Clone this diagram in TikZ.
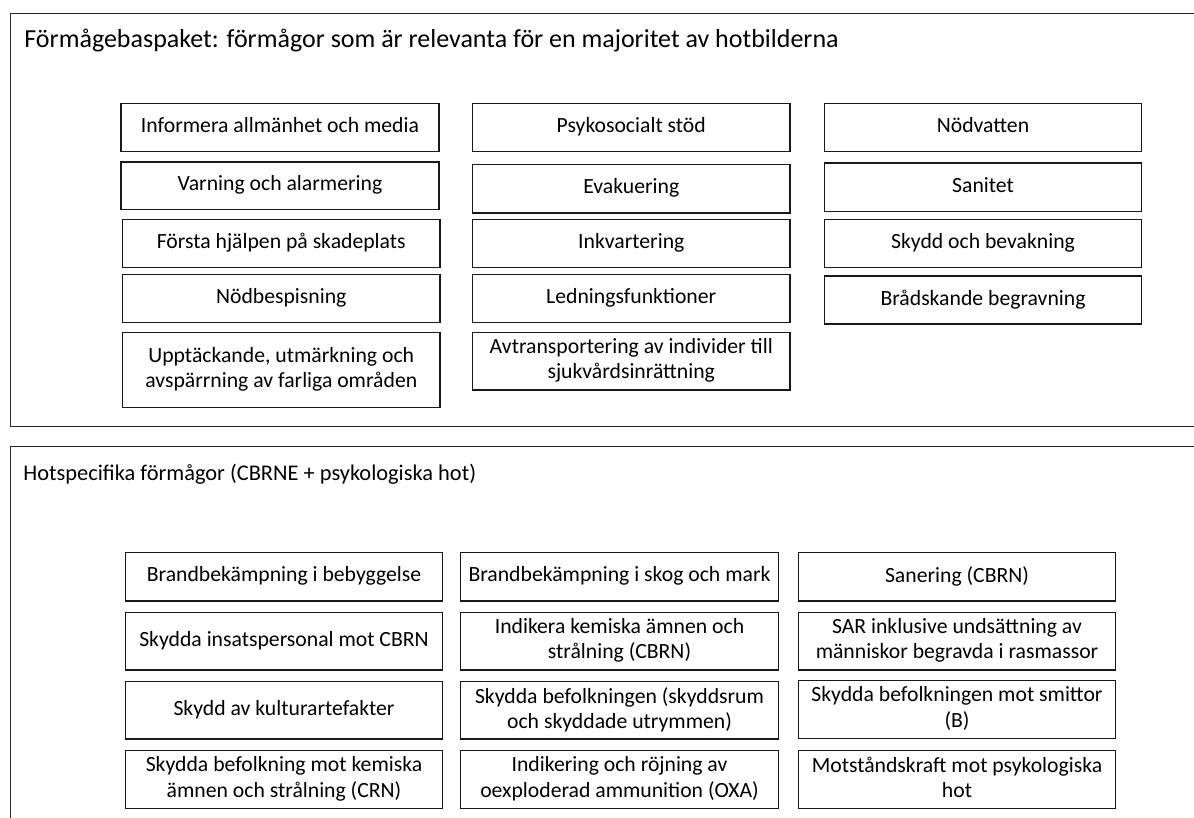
\documentclass[tikz,border=0pt]{standalone}
\usepackage{fontspec}
\setmainfont{Carlito}
\newcommand{\cellstrut}{\rule[-2.5pt]{0pt}{9.4pt}}
\tikzset{
  cell/.style={draw=black!90, line width=0.75pt, inner sep=0pt, align=center,
    font=\fontsize{10.85}{12.6}\selectfont},
  frame/.style={draw=black!85, line width=0.9pt},
  title/.style={anchor=base west, inner sep=0pt}
}
\newcommand{\cellbox}[6]{%
  \pgfmathsetmacro\cbx{(#2+#4)/2}\pgfmathsetmacro\cby{(#3+#5)/2}%
  \pgfmathsetmacro\cbw{(#4-#2)*0.5}\pgfmathsetmacro\cbh{(#5-#3)*0.5}%
  \node[cell, minimum width=\cbw pt, minimum height=\cbh pt] (#1) at (\cbx,\cby) {\cellstrut#6\cellstrut};}
\begin{document}
\begin{tikzpicture}[x=0.5pt, y=-0.5pt]
\clip (0,0) rectangle (1194,818);
\fill[white] (0,0) rectangle (1194,818);
% frames
\draw[frame] (1230,13.5) -- (10.5,13.5) -- (10.5,426.5) -- (1230,426.5);
\draw[frame] (1230,446.5) -- (10.5,446.5) -- (10.5,840);
\node[title, font=\fontsize{13}{15}\selectfont] (t1) at (24,48) {Förmågebaspaket: förmågor som är relevanta för en majoritet av hotbilderna};
\node[title, font=\fontsize{11.2}{14}\selectfont] (t2) at (23,480) {Hotspecifika förmågor (CBRNE + psykologiska hot)};
% top section
\cellbox{a1}{121}{103.5}{439}{151.5}{Informera allmänhet och media}
\cellbox{a2}{121}{162}{439}{209.5}{Varning och alarmering}
\cellbox{a3}{122.5}{219.5}{440}{267.5}{Första hjälpen på skadeplats}
\cellbox{a4}{122.5}{274.5}{440}{322.5}{Nödbespisning}
\cellbox{a5}{122.5}{332.5}{440}{407.5}{Upptäckande, utmärkning och\\avspärrning av farliga områden}
\cellbox{b1}{472.5}{103.5}{790}{151.5}{Psykosocialt stöd}
\cellbox{b2}{472.5}{164.5}{790}{213}{Evakuering}
\cellbox{b3}{472.5}{219.5}{790}{267.5}{Inkvartering}
\cellbox{b4}{472.5}{274.5}{790}{322.5}{Ledningsfunktioner}
\cellbox{b5}{472.5}{332.5}{790}{390}{Avtransportering av individer till\\sjukvårdsinrättning}
\cellbox{c1}{824.5}{103.5}{1141.5}{151.5}{Nödvatten}
\cellbox{c2}{824.5}{163}{1141.5}{211.5}{Sanitet}
\cellbox{c3}{824.5}{219.5}{1141.5}{267.5}{Skydd och bevakning}
\cellbox{c4}{824.5}{276}{1141.5}{324}{Brådskande begravning}
% bottom section
\cellbox{d1}{125.5}{552.5}{442.5}{601}{Brandbekämpning i bebyggelse}
\cellbox{d2}{125.5}{612.5}{442.5}{670}{Skydda insatspersonal mot CBRN}
\cellbox{d3}{125.5}{681.5}{442.5}{739}{Skydd av kulturartefakter}
\cellbox{d4}{125.5}{750.5}{442.5}{808.5}{Skydda befolkning mot kemiska\\ämnen och strålning (CRN)}
\cellbox{e1}{460.5}{552.5}{778.5}{601}{Brandbekämpning i skog och mark}
\cellbox{e2}{460.5}{612.5}{778.5}{670}{Indikera kemiska ämnen och\\strålning (CBRN)}
\cellbox{e3}{460.5}{681.5}{778.5}{739}{Skydda befolkningen (skyddsrum\\och skyddade utrymmen)}
\cellbox{e4}{460.5}{750.5}{778.5}{808.5}{Indikering och röjning av\\oexploderad ammunition (OXA)}
\cellbox{f1}{798.5}{552.5}{1115.5}{601}{Sanering (CBRN)}
\cellbox{f2}{798.5}{612.5}{1115.5}{670}{SAR inklusive undsättning av\\människor begravda i rasmassor}
\cellbox{f3}{798.5}{680.5}{1115.5}{738.5}{Skydda befolkningen mot smittor\\(B)}
\cellbox{f4}{798.5}{750.5}{1115.5}{808.5}{Motståndskraft mot psykologiska\\hot}
\end{tikzpicture}
\end{document}
